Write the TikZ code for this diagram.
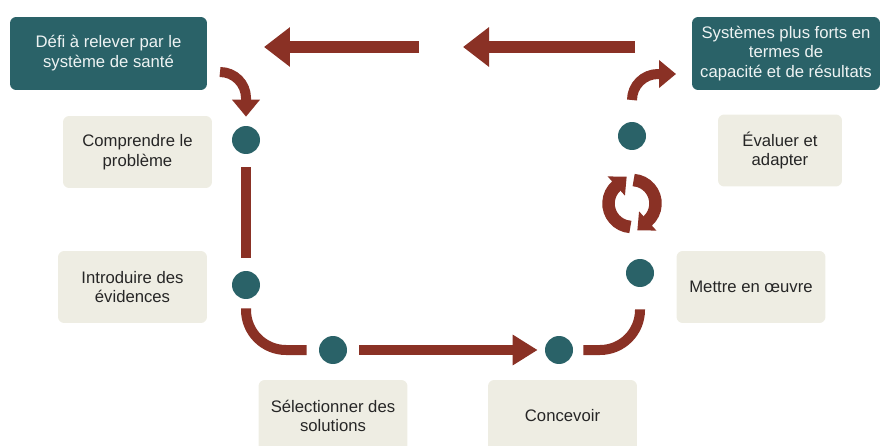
\documentclass[tikz,border=0pt]{standalone}
\usepackage{fontspec}
\setmainfont{Liberation Sans}
\usetikzlibrary{arrows.meta, positioning, calc}
\definecolor{darkteal}{HTML}{2A6268}
\definecolor{rustred}{HTML}{8A3125}
\definecolor{paleboard}{HTML}{EEEDE3}

\begin{document}
\begin{tikzpicture}[
    x=0.02cm, y=0.02cm,
    font=\fontsize{9.5pt}{11.3pt}\selectfont,
    % Define the style for each block
    goal/.style={rectangle, fill=darkteal, text=white!92!darkteal, align=center, rounded corners=3.5pt, minimum height=1.46cm, minimum width=3.94cm, inner sep=1pt},
    stage/.style={rectangle, fill=paleboard, text=black!85, align=center, rounded corners=3.5pt, minimum height=1.44cm, minimum width=2.98cm},
    milestone/.style={circle, fill=darkteal, minimum size=0.56cm, inner sep=0pt},
    track/.style={draw=rustred, line width=0.2cm},
    connector/.style={track, -{Triangle[length=0.5cm, width=0.58cm]}},
    bigarrow/.style={draw=rustred, line width=0.23cm, -{Triangle[length=0.52cm, width=0.76cm]}},
    bendarrow/.style={draw=rustred, line width=0.2cm, -{Triangle[length=0.34cm, width=0.54cm]}},
    cyclearrow/.style={draw=rustred, line width=0.25cm, -{Triangle[length=0.28cm, width=0.5cm]}}
]
\useasboundingbox (0,0) rectangle (882,-446);

% Place nodes using explicit positioning
\node [goal] (Defi) at (108.5,-53.5) {Défi à relever par le\\système de santé};
\node [goal, minimum width=3.76cm] (Systemes) at (786,-53.5) {Systèmes plus forts en\\termes de\\capacité et de résultats};

\node [stage] (Comprendre) at (137.5,-152) {Comprendre le\\problème};
\node [stage] (Introduire) at (132.5,-287) {Introduire des\\évidences};
\node [stage] (Selection) at (333,-416) {Sélectionner des\\solutions};
\node [stage] (Concevoir) at (562.5,-416) {Concevoir};
\node [stage] (Mettre) at (751,-287) {Mettre en œuvre};
\node [stage, minimum width=2.48cm] (Evaluer) at (780,-150.5) {Évaluer et\\adapter};

\node [milestone] (Pt1) at (246,-140) {};
\node [milestone] (Pt2) at (246,-285) {};
\node [milestone] (Pt3) at (333,-350) {};
\node [milestone] (Pt4) at (559,-350) {};
\node [milestone] (Pt5) at (640,-273) {};
\node [milestone] (Pt6) at (632,-136) {};

\coordinate (ArrA1) at (419,-47);
\coordinate (ArrA2) at (264,-47);
\coordinate (ArrB1) at (635,-47);
\coordinate (ArrB2) at (463,-47);
\coordinate (BendIn) at (220,-72);
\coordinate (BendOut) at (676,-74);
\coordinate (Cycle) at (632,-203.5);

% Draw connectors
\draw [bigarrow] (ArrA1) -- (ArrA2);
\draw [bigarrow] (ArrB1) -- (ArrB2);

\draw [bendarrow, shorten >=0.18cm] (BendIn) arc[start angle=90, end angle=0, radius=26] -- (Pt1);
\draw [track, shorten <=0.26cm, shorten >=0.26cm] (Pt1) -- (Pt2);
\draw [track, rounded corners=0.8cm, shorten <=0.18cm, shorten >=0.24cm] (Pt2) |- (Pt3);
\draw [connector, shorten <=0.24cm, shorten >=0.14cm] (Pt3) -- (Pt4);
\draw [track, rounded corners=0.8cm, shorten <=0.2cm, shorten >=0.44cm] (Pt4) -| (Pt5);

\draw [cyclearrow] ($(Cycle)+(266:23.5)$) arc[start angle=266, end angle=132, radius=23.5] -- ++(42:14);
\draw [cyclearrow] ($(Cycle)+(86:23.5)$) arc[start angle=86, end angle=-48, radius=23.5] -- ++(-138:14);

\draw [bendarrow] ([yshift=0.72cm]Pt6.center) arc[start angle=180, end angle=90, radius=26] -- (BendOut);
\end{tikzpicture}
\end{document}
